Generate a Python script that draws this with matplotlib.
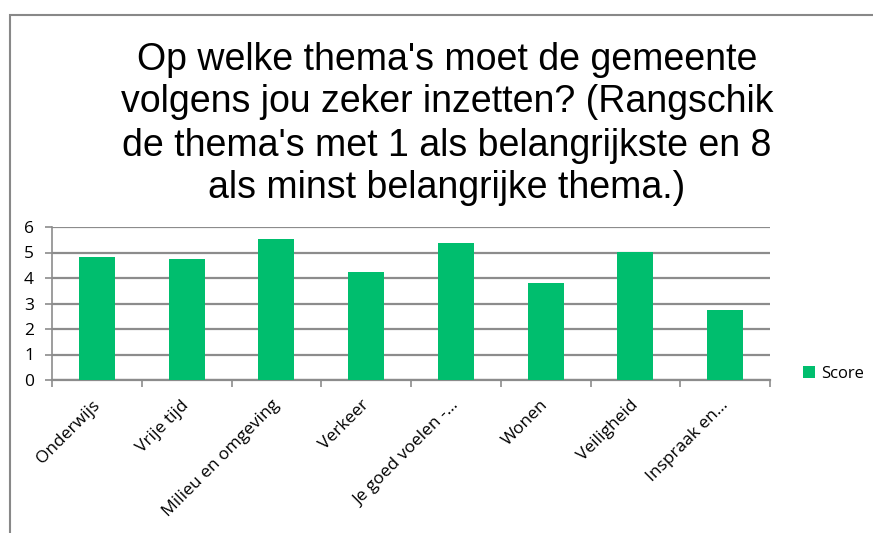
import matplotlib
matplotlib.use("Agg")
import matplotlib.pyplot as plt
import matplotlib.patches as mpatches
import numpy as np

# Data
categories = ["Onderwijs", "Vrije tijd", "Milieu en omgeving", "Verkeer",
              "Je goed voelen -...", "Wonen", "Veiligheid", "Inspraak en..."]
scores = [4.84, 4.76, 5.53, 4.22, 5.39, 3.79, 5.03, 2.75]
title = ("Op welke thema's moet de gemeente\n"
         "volgens jou zeker inzetten? (Rangschik\n"
         "de thema's met 1 als belangrijkste en 8\n"
         "als minst belangrijke thema.)")

green = "#00BE6E"
grid_gray = "#8C8C8C"

W, H = 873, 533
fig = plt.figure(figsize=(W / 100, H / 100), dpi=100)

# outer chart frame (cut off at right and bottom)
fig.patches.append(mpatches.Rectangle((10 / W, -0.1), 1.2, 1 - 15 / H + 0.1,
                                      transform=fig.transFigure, fill=False,
                                      edgecolor="#888888", linewidth=1.5))

ax = fig.add_axes([52 / W, 1 - 380 / H, (770 - 52) / W, (380 - 227) / H])
x = np.arange(len(categories))
ax.bar(x, scores, width=0.4, color=green, zorder=3, label="Score")

ax.set_xlim(-0.5, len(categories) - 0.5)
ax.set_ylim(0, 6)
ax.set_yticks(range(0, 7))
ax.yaxis.grid(True, color=grid_gray, linewidth=1.6, zorder=0)
ax.set_axisbelow(True)

for s in ["top", "right"]:
    ax.spines[s].set_visible(False)
ax.spines["left"].set_color(grid_gray)
ax.spines["bottom"].set_color(grid_gray)
ax.spines["left"].set_linewidth(1.2)
ax.spines["bottom"].set_linewidth(1.6)

# category boundary ticks
ax.set_xticks(np.arange(-0.5, len(categories)), minor=False)
ax.set_xticklabels([])
ax.tick_params(axis="x", direction="out", length=5, color=grid_gray, width=1.2)
ax.tick_params(axis="y", direction="out", length=5, color=grid_gray, width=1.2,
               labelsize=12.5, pad=8)
for lab in ax.get_yticklabels():
    lab.set_family("Open Sans")

for xi, name in zip(x, categories):
    ax.text(xi - 0.06, -0.68, name, rotation=45, ha="right", va="top",
            rotation_mode="anchor", fontsize=12.5, family="Open Sans",
            transform=ax.transData)

fig.text(447 / W, 1 - 124 / H, title, ha="center", va="center",
         fontsize=27, family="Liberation Sans", linespacing=1.25)

leg = ax.legend(loc="center left", bbox_to_anchor=(1.025, 0.04), frameon=False,
                handlelength=0.7, handleheight=0.7, handletextpad=0.4,
                prop={"family": "Open Sans", "size": 12})

fig.savefig("out.png", dpi=100)
